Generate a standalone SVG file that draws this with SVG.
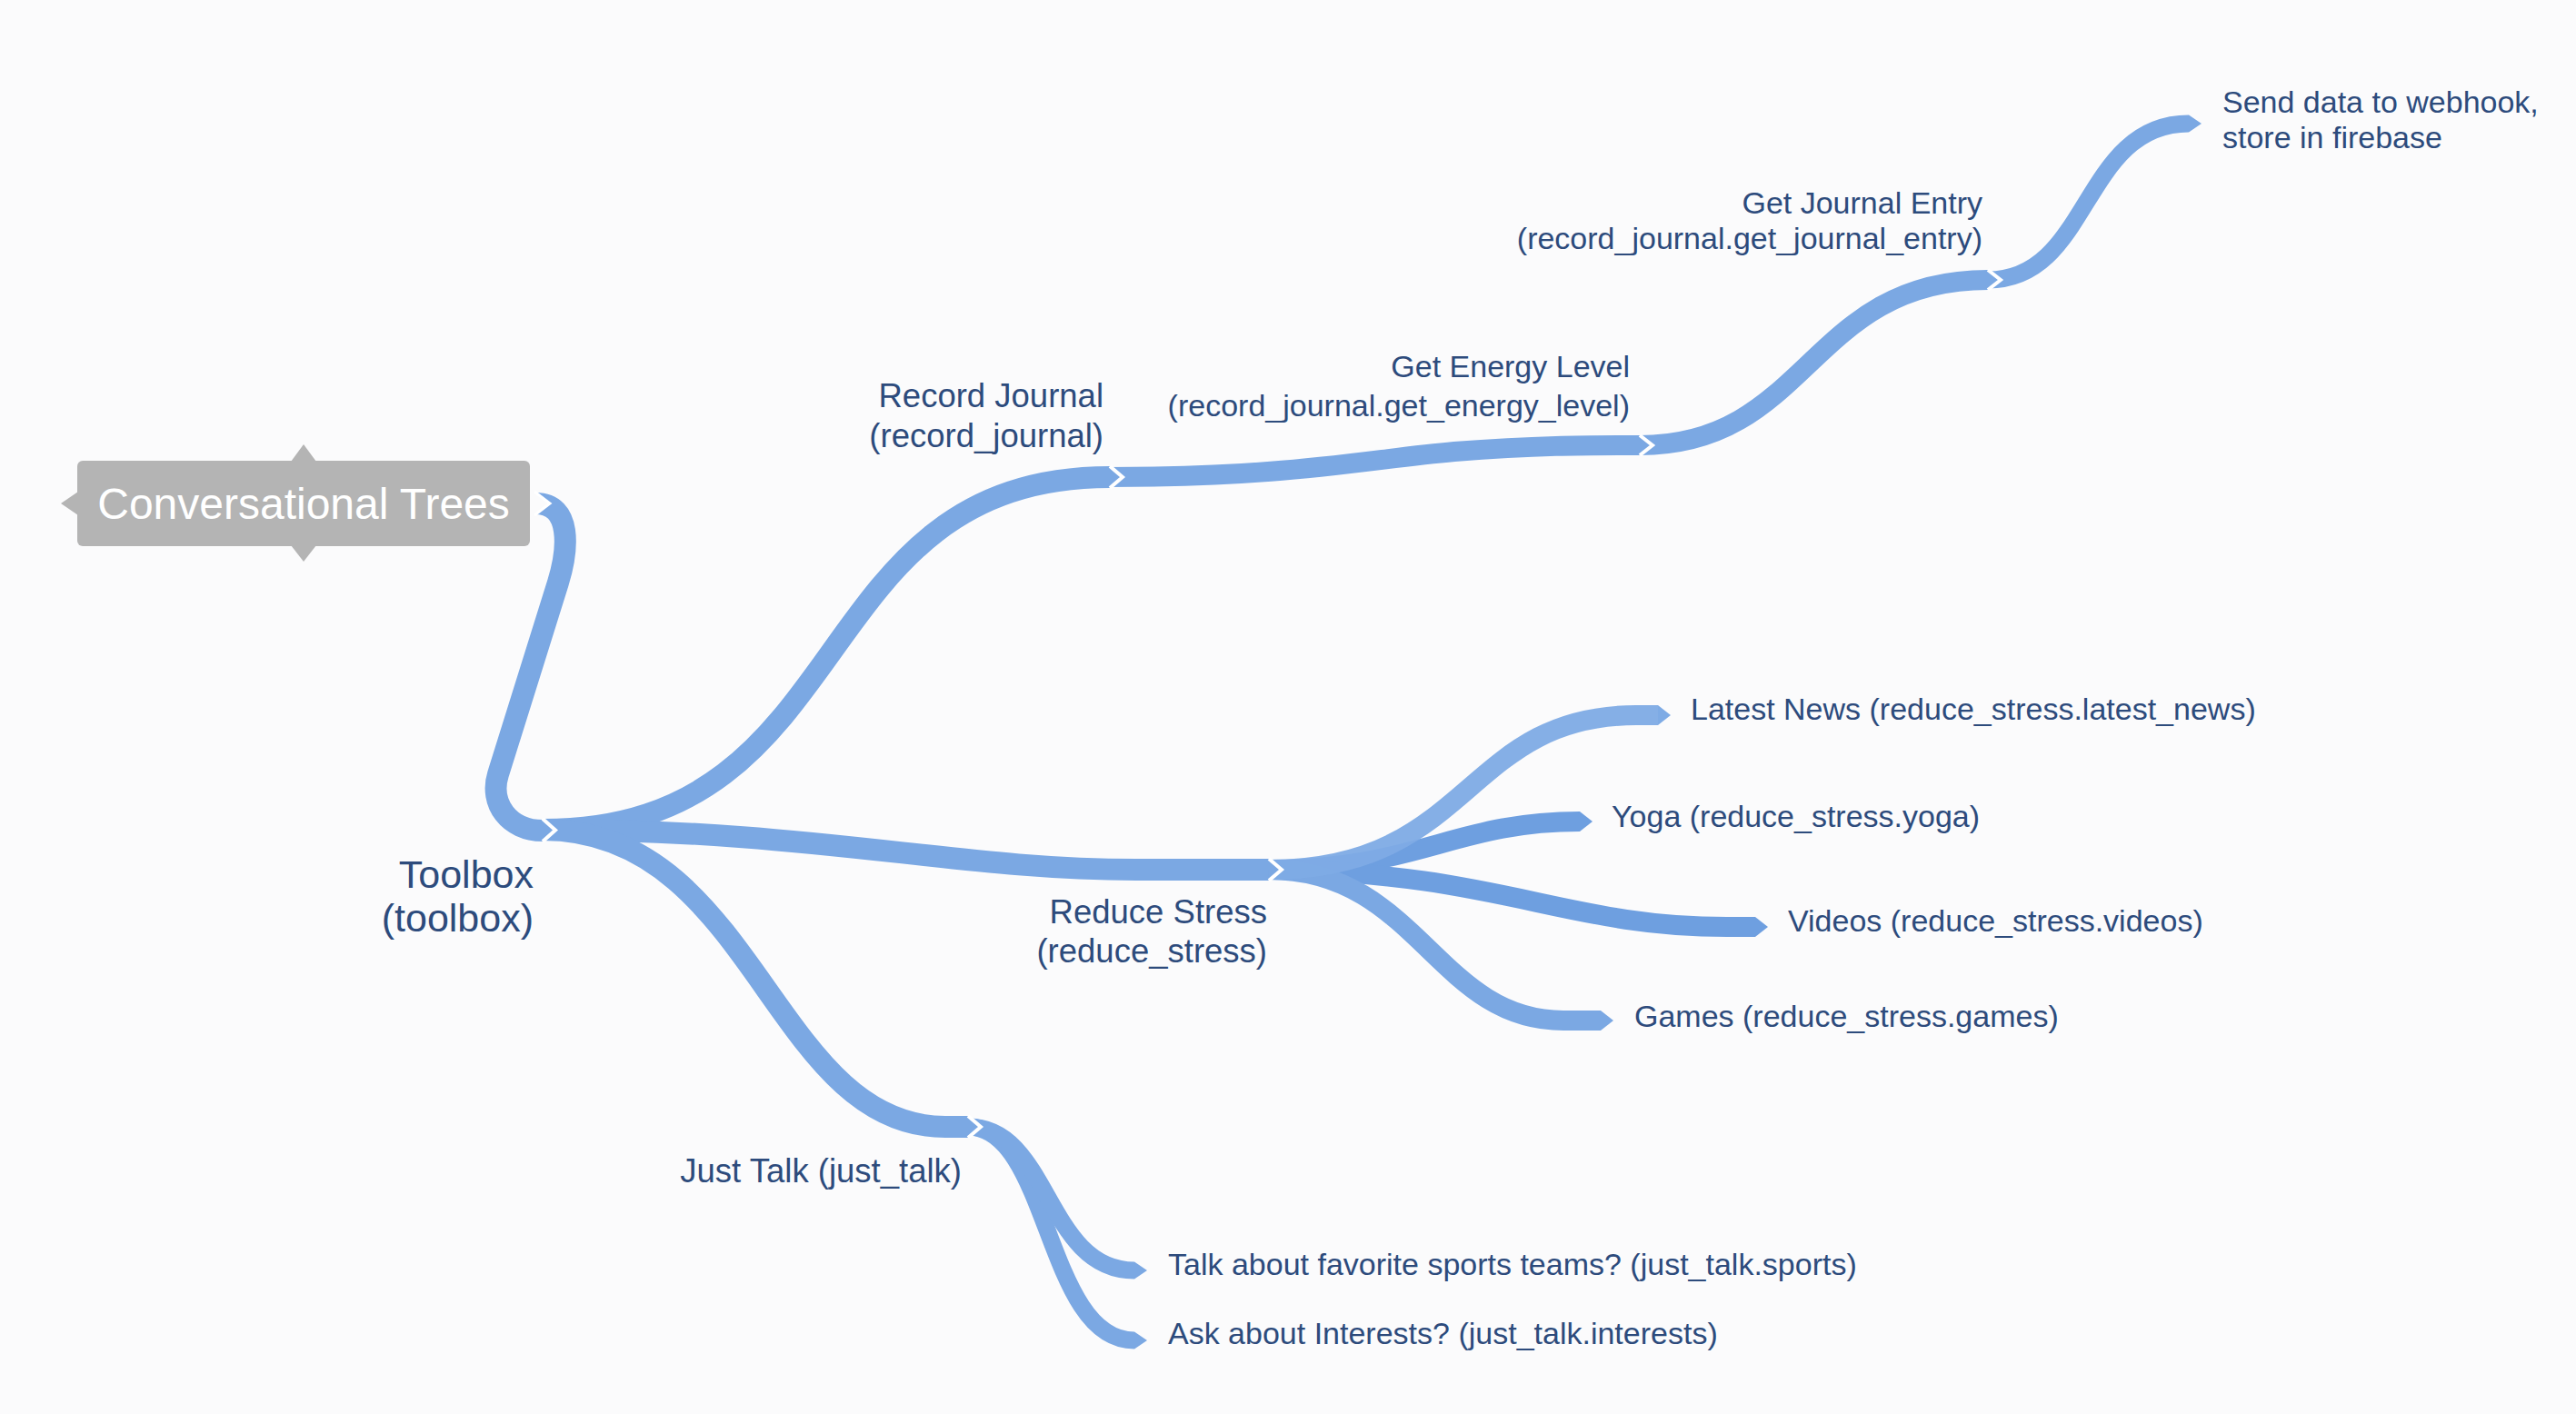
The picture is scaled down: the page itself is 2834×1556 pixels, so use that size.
<svg xmlns="http://www.w3.org/2000/svg" width="2834" height="1556" viewBox="0 0 2834 1556">
<style>
.bg{fill:#fbfbfc}
.rib{fill:none;stroke:#7ba8e3;stroke-width:22;stroke-linecap:butt}
.rib.w{stroke-width:24}
.rib.d{stroke:#6e9fe0}
.rib.t{stroke-width:19}
.tip{fill:#7ba8e3;stroke:#ffffff;stroke-width:4;stroke-linejoin:miter}
.leaf{fill:#7ba8e3}
.leaf.d{fill:#6e9fe0}
.lbl{font-family:"Liberation Sans",Arial,Helvetica,sans-serif;font-size:34px;fill:#2d4b7c}
.lbl.big{font-size:36.5px}
.r{text-anchor:end}
.root-box{fill:#b4b4b4}
.root-txt{font-family:"Liberation Sans",Arial,Helvetica,sans-serif;font-size:48px;fill:#ffffff;text-anchor:middle}
</style>
<rect class="bg" x="0" y="0" width="2834" height="1556"/>

<g id="connectors">
  <!-- root to toolbox -->
  <path class="rib w" d="M 589 554 C 630 554 625 605 614 641 L 548 852 C 538 884 560 914 597 914"/>
  <!-- toolbox children -->
  <path class="rib w" d="M 597 913 C 950 913 880 525 1221 525"/>
  <path class="rib w" d="M 597 913 C 900 913 1050 957 1250 957 L 1396 957"/>
  <path class="rib w" d="M 597 913 C 830 913 850 1240 1040 1240 L 1065 1240"/>
  <!-- record journal chain -->
  <path class="rib" d="M 1221 525 C 1420 525 1500 506 1600 497 C 1690 490 1740 490 1804 490"/>
  <path class="rib" d="M 1804 490 C 1990 490 1990 308 2187 308"/>
  <path class="rib t" d="M 2187 308 C 2300 308 2290 136 2408 136"/>
  <!-- reduce stress children -->
  <path class="rib d" d="M 1396 957 C 1560 957 1600 904 1738 904"/>
  <path class="rib d" d="M 1396 957 C 1650 960 1720 1020 1900 1020 L 1931 1020"/>
  <path class="rib" d="M 1396 957 C 1560 957 1580 1123 1720 1123 L 1761 1123"/>
  <path class="rib" style="stroke:#7eabe5;stroke-opacity:0.95" d="M 1396 957 C 1620 957 1610 787 1800 787 L 1824 787"/>
  <!-- just talk children -->
  <path class="rib t" d="M 1065 1240 C 1155 1240 1150 1475 1248 1475"/>
  <path class="rib t" d="M 1065 1240 C 1155 1240 1150 1398 1248 1398"/>

  <!-- leaf tips -->
  <polygon class="leaf" points="2408,126.5 2422,136 2408,145.5"/>
  <polygon class="leaf" style="fill:#7eabe5" points="1824,776 1838,787 1824,798"/>
  <polygon class="leaf d" points="1738,893 1752,904 1738,915"/>
  <polygon class="leaf d" points="1931,1009 1945,1020 1931,1031"/>
  <polygon class="leaf" points="1761,1112 1775,1123 1761,1134"/>
  <polygon class="leaf" points="1248,1388.5 1262,1398 1248,1407.5"/>
  <polygon class="leaf" points="1248,1465.5 1262,1475 1248,1484.5"/>

  <!-- branch tips (children start here) -->
  <polyline class="tip" points="597,901 611,913.5 597,926"/>
  <polyline class="tip" points="1221,513 1235,525 1221,537"/>
  <polyline class="tip" points="1804,479 1818,490 1804,501"/>
  <polyline class="tip" points="2187,297 2201,308 2187,319"/>
  <polyline class="tip" points="1396,945 1410,957 1396,969"/>
  <polyline class="tip" points="1065,1228 1079,1240 1065,1252"/>
</g>

<g id="root">
  <rect class="root-box" x="85" y="507" width="498" height="94" rx="6"/>
  <polygon class="root-box" points="320,508 334,489 348,508"/>
  <polygon class="root-box" points="320,600 334,618 348,600"/>
  <polygon class="root-box" points="86,541 67,554 86,567"/>
  <polyline points="588,541 605,554 588,567" fill="#fbfbfc" stroke="#ffffff" stroke-width="3"/>
  <text class="root-txt" x="334" y="571">Conversational Trees</text>
</g>

<g id="toolbox">
  <text class="lbl r" style="font-size:43px" x="587" y="977">Toolbox</text>
  <text class="lbl r" style="font-size:43px" x="587" y="1025">(toolbox)</text>
</g>

<g id="record_journal">
  <text class="lbl big r" x="1214" y="448">Record Journal</text>
  <text class="lbl big r" x="1214" y="492">(record_journal)</text>
</g>

<g id="get_energy_level">
  <text class="lbl r" x="1793" y="415">Get Energy Level</text>
  <text class="lbl r" x="1793" y="458">(record_journal.get_energy_level)</text>
</g>

<g id="get_journal_entry">
  <text class="lbl r" x="2181" y="235">Get Journal Entry</text>
  <text class="lbl r" x="2181" y="274">(record_journal.get_journal_entry)</text>
</g>

<g id="send_data">
  <text class="lbl" x="2445" y="124">Send data to webhook,</text>
  <text class="lbl" x="2445" y="163">store in firebase</text>
</g>

<g id="reduce_stress">
  <text class="lbl big r" x="1394" y="1016">Reduce Stress</text>
  <text class="lbl big r" x="1394" y="1059">(reduce_stress)</text>
</g>

<g id="latest_news">
  <text class="lbl" x="1860" y="792">Latest News (reduce_stress.latest_news)</text>
</g>

<g id="yoga">
  <text class="lbl" x="1773" y="910">Yoga (reduce_stress.yoga)</text>
</g>

<g id="videos">
  <text class="lbl" x="1967" y="1025">Videos (reduce_stress.videos)</text>
</g>

<g id="games">
  <text class="lbl" x="1798" y="1130">Games (reduce_stress.games)</text>
</g>

<g id="just_talk">
  <text class="lbl big r" x="1058" y="1301">Just Talk (just_talk)</text>
</g>

<g id="sports">
  <text class="lbl" x="1285" y="1403">Talk about favorite sports teams? (just_talk.sports)</text>
</g>

<g id="interests">
  <text class="lbl" x="1285" y="1479">Ask about Interests? (just_talk.interests)</text>
</g>
</svg>
